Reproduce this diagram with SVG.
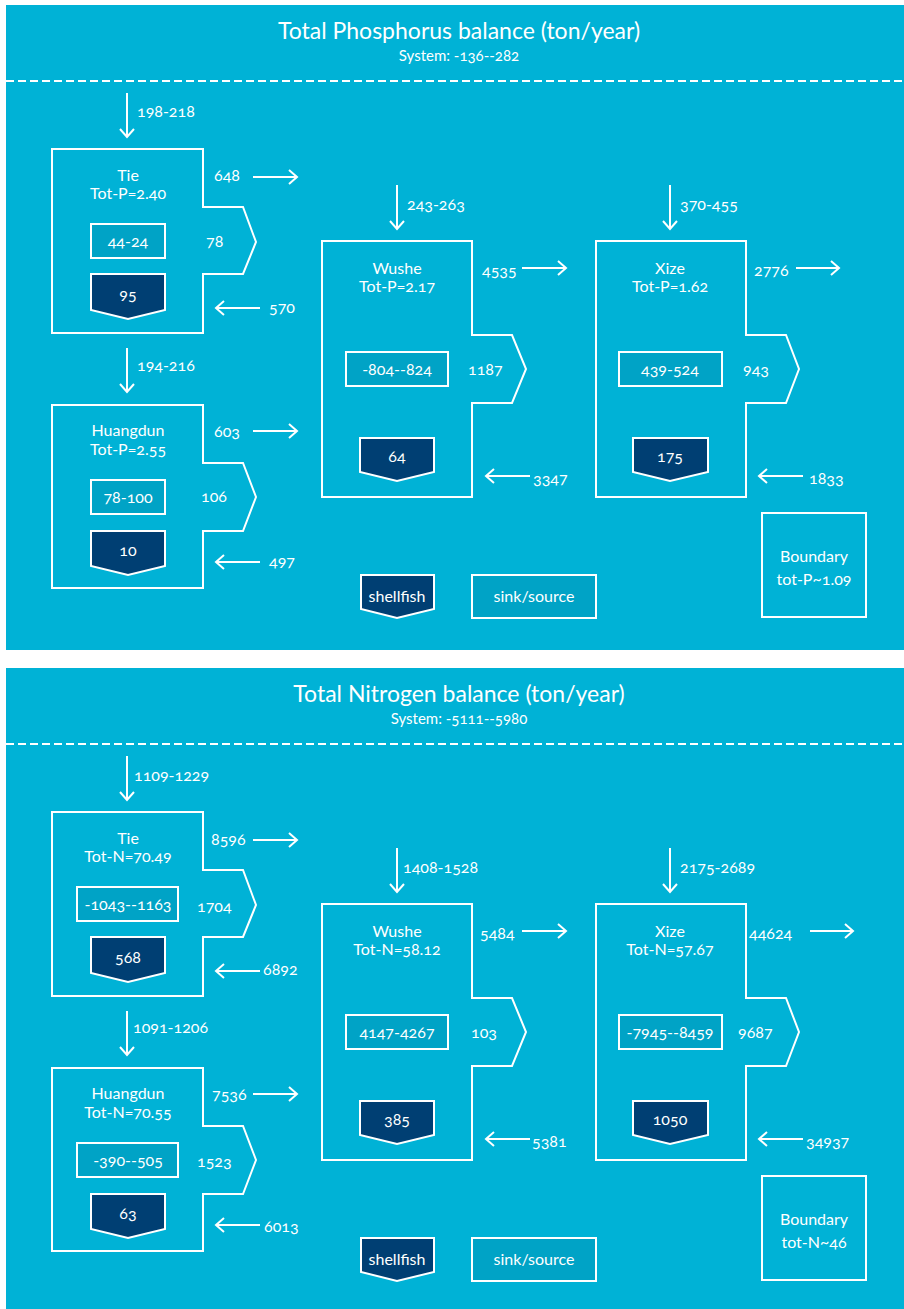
<svg xmlns="http://www.w3.org/2000/svg" width="904" height="1309" viewBox="0 0 904 1309">
<style>
.bg{fill:#00b2d6}
.box{fill:none;stroke:#fff;stroke-width:2}
.sink{fill:#00a3c6;stroke:#fff;stroke-width:2}
.shell{fill:#003f73;stroke:#fff;stroke-width:2}
.ln{stroke:#fff;stroke-width:2;fill:none}
.dash{stroke:#fff;stroke-width:2;stroke-dasharray:8 4}
text{font-family:Lato,"Open Sans","Liberation Sans",sans-serif;fill:#fff;font-size:16px;font-variant-numeric:oldstyle-nums}
.c{text-anchor:middle}
.t{font-size:23px}
.s{font-size:15px}
</style>
<defs>
<marker id="ah" markerUnits="userSpaceOnUse" markerWidth="14" markerHeight="16" refX="11" refY="8" orient="auto">
<path d="M3,1 L11,8 L3,15" fill="none" stroke="#fff" stroke-width="2"/>
</marker>
</defs>
<rect width="904" height="1309" fill="#fff"/>

<g id="panel-P">
<rect class="bg" x="6" y="5" width="898" height="645"/>
<text class="c t" x="459" y="39">Total Phosphorus balance (ton/year)</text>
<text class="c s" x="459" y="61">System: -136--282</text>
<line class="dash" x1="6" y1="81" x2="904" y2="81"/>

<g id="P-tie">
<path class="box" d="M52,149 H203 V207 H243 L256,242 L243,274 H203 V333 H52 Z"/>
<text class="c" x="128" y="181">Tie</text>
<text class="c" x="128" y="199">Tot-P=2.40</text>
<rect class="sink" x="91" y="224" width="74" height="34"/>
<text class="c" x="128" y="247">44-24</text>
<path class="shell" d="M91,274 H165 V310 L128,319 L91,310 Z"/>
<text class="c" x="128" y="300">95</text>
</g>
<g id="P-huangdun">
<path class="box" d="M52,405 H203 V463 H243 L256,497 L243,531 H203 V588 H52 Z"/>
<text class="c" x="128" y="436">Huangdun</text>
<text class="c" x="128" y="455">Tot-P=2.55</text>
<rect class="sink" x="91" y="480" width="74" height="34"/>
<text class="c" x="128" y="503">78-100</text>
<path class="shell" d="M91,531 H165 V566 L128,575 L91,566 Z"/>
<text class="c" x="128" y="556">10</text>
</g>
<g id="P-wushe">
<path class="box" d="M322,241 H472 V335 H512 L526,369 L512,403 H472 V497 H322 Z"/>
<text class="c" x="397" y="274">Wushe</text>
<text class="c" x="397" y="292">Tot-P=2.17</text>
<rect class="sink" x="346" y="352" width="102" height="34"/>
<text class="c" x="397" y="375">-804--824</text>
<path class="shell" d="M360,438 H434 V472 L397,481 L360,472 Z"/>
<text class="c" x="397" y="462">64</text>
</g>
<g id="P-xize">
<path class="box" d="M596,241 H746 V335 H786 L799,369 L786,403 H746 V497 H596 Z"/>
<text class="c" x="670" y="274">Xize</text>
<text class="c" x="670" y="292">Tot-P=1.62</text>
<rect class="sink" x="619" y="352" width="103" height="34"/>
<text class="c" x="670" y="375">439-524</text>
<path class="shell" d="M633,438 H708 V472 L670,481 L633,472 Z"/>
<text class="c" x="670" y="462">175</text>
</g>
<g id="P-legend">
<path class="shell" d="M361,575 H434 V609 L397,618 L361,609 Z"/>
<text class="c" x="397" y="602">shellfish</text>
<rect class="sink" x="472" y="575" width="124" height="43"/>
<text class="c" x="534" y="602">sink/source</text>
</g>
<g id="P-boundary">
<rect class="box" x="762" y="513" width="104" height="104"/>
<text class="c" x="814" y="562">Boundary</text>
<text class="c" x="814" y="585">tot-P~1.09</text>
</g>
<g id="P-connectors">
<line class="ln" x1="127" y1="93" x2="127" y2="137" marker-end="url(#ah)"/>
<line class="ln" x1="127" y1="348" x2="127" y2="392" marker-end="url(#ah)"/>
<line class="ln" x1="397" y1="185" x2="397" y2="229" marker-end="url(#ah)"/>
<line class="ln" x1="670" y1="185" x2="670" y2="229" marker-end="url(#ah)"/>
<line class="ln" x1="253" y1="177" x2="297" y2="177" marker-end="url(#ah)"/>
<line class="ln" x1="253" y1="431" x2="297" y2="431" marker-end="url(#ah)"/>
<line class="ln" x1="522" y1="268" x2="566" y2="268" marker-end="url(#ah)"/>
<line class="ln" x1="796" y1="268" x2="839" y2="268" marker-end="url(#ah)"/>
<line class="ln" x1="260" y1="308" x2="216" y2="308" marker-end="url(#ah)"/>
<line class="ln" x1="260" y1="562" x2="216" y2="562" marker-end="url(#ah)"/>
<line class="ln" x1="530" y1="476" x2="486" y2="476" marker-end="url(#ah)"/>
<line class="ln" x1="803" y1="476" x2="759" y2="476" marker-end="url(#ah)"/>
<text x="137" y="117">198-218</text>
<text x="214" y="181">648</text>
<text x="206" y="247">78</text>
<text x="269" y="313">570</text>
<text x="137" y="371">194-216</text>
<text x="214" y="437">603</text>
<text x="201" y="502">106</text>
<text x="269" y="567">497</text>
<text x="407" y="210">243-263</text>
<text x="482" y="276">4535</text>
<text x="468" y="375">1187</text>
<text x="533" y="484">3347</text>
<text x="680" y="210">370-455</text>
<text x="754" y="276">2776</text>
<text x="743" y="375">943</text>
<text x="809" y="484">1833</text>
</g>
</g>

<g id="panel-N" transform="translate(0,663)">
<rect class="bg" x="6" y="5" width="898" height="646"/>
<text class="c t" x="459" y="39">Total Nitrogen balance (ton/year)</text>
<text class="c s" x="459" y="61">System: -5111--5980</text>
<line class="dash" x1="6" y1="81" x2="904" y2="81"/>

<g id="N-tie">
<path class="box" d="M52,149 H203 V207 H243 L256,242 L243,274 H203 V333 H52 Z"/>
<text class="c" x="128" y="181">Tie</text>
<text class="c" x="128" y="199">Tot-N=70.49</text>
<rect class="sink" x="77" y="224" width="101" height="34"/>
<text class="c" x="128" y="247">-1043--1163</text>
<path class="shell" d="M91,274 H165 V310 L128,319 L91,310 Z"/>
<text class="c" x="128" y="300">568</text>
</g>
<g id="N-huangdun">
<path class="box" d="M52,405 H203 V463 H243 L256,497 L243,531 H203 V588 H52 Z"/>
<text class="c" x="128" y="436">Huangdun</text>
<text class="c" x="128" y="455">Tot-N=70.55</text>
<rect class="sink" x="77" y="480" width="101" height="34"/>
<text class="c" x="128" y="503">-390--505</text>
<path class="shell" d="M91,531 H165 V566 L128,575 L91,566 Z"/>
<text class="c" x="128" y="556">63</text>
</g>
<g id="N-wushe">
<path class="box" d="M322,241 H472 V335 H512 L526,369 L512,403 H472 V497 H322 Z"/>
<text class="c" x="397" y="274">Wushe</text>
<text class="c" x="397" y="292">Tot-N=58.12</text>
<rect class="sink" x="346" y="352" width="102" height="34"/>
<text class="c" x="397" y="375">4147-4267</text>
<path class="shell" d="M360,438 H434 V472 L397,481 L360,472 Z"/>
<text class="c" x="397" y="462">385</text>
</g>
<g id="N-xize">
<path class="box" d="M596,241 H746 V335 H786 L799,369 L786,403 H746 V497 H596 Z"/>
<text class="c" x="670" y="274">Xize</text>
<text class="c" x="670" y="292">Tot-N=57.67</text>
<rect class="sink" x="619" y="352" width="103" height="34"/>
<text class="c" x="670" y="375">-7945--8459</text>
<path class="shell" d="M633,438 H708 V472 L670,481 L633,472 Z"/>
<text class="c" x="670" y="462">1050</text>
</g>
<g id="N-legend">
<path class="shell" d="M361,575 H434 V609 L397,618 L361,609 Z"/>
<text class="c" x="397" y="602">shellfish</text>
<rect class="sink" x="472" y="575" width="124" height="43"/>
<text class="c" x="534" y="602">sink/source</text>
</g>
<g id="N-boundary">
<rect class="box" x="762" y="513" width="104" height="104"/>
<text class="c" x="814" y="562">Boundary</text>
<text class="c" x="814" y="585">tot-N~46</text>
</g>
<g id="N-connectors">
<line class="ln" x1="127" y1="93" x2="127" y2="137" marker-end="url(#ah)"/>
<line class="ln" x1="127" y1="348" x2="127" y2="392" marker-end="url(#ah)"/>
<line class="ln" x1="397" y1="185" x2="397" y2="229" marker-end="url(#ah)"/>
<line class="ln" x1="670" y1="185" x2="670" y2="229" marker-end="url(#ah)"/>
<line class="ln" x1="253" y1="177" x2="297" y2="177" marker-end="url(#ah)"/>
<line class="ln" x1="253" y1="431" x2="297" y2="431" marker-end="url(#ah)"/>
<line class="ln" x1="522" y1="268" x2="566" y2="268" marker-end="url(#ah)"/>
<line class="ln" x1="810" y1="268" x2="853" y2="268" marker-end="url(#ah)"/>
<line class="ln" x1="260" y1="308" x2="216" y2="308" marker-end="url(#ah)"/>
<line class="ln" x1="260" y1="562" x2="216" y2="562" marker-end="url(#ah)"/>
<line class="ln" x1="530" y1="476" x2="486" y2="476" marker-end="url(#ah)"/>
<line class="ln" x1="803" y1="476" x2="759" y2="476" marker-end="url(#ah)"/>
<text x="134" y="118">1109-1229</text>
<text x="211" y="182">8596</text>
<text x="197" y="249">1704</text>
<text x="263" y="312">6892</text>
<text x="133" y="370">1091-1206</text>
<text x="212" y="437">7536</text>
<text x="197" y="504">1523</text>
<text x="264" y="569">6013</text>
<text x="403" y="210">1408-1528</text>
<text x="480" y="276">5484</text>
<text x="471" y="375">103</text>
<text x="532" y="484">5381</text>
<text x="680" y="210">2175-2689</text>
<text x="749" y="276">44624</text>
<text x="738" y="375">9687</text>
<text x="806" y="484">34937</text>
</g>
</g>
</svg>
